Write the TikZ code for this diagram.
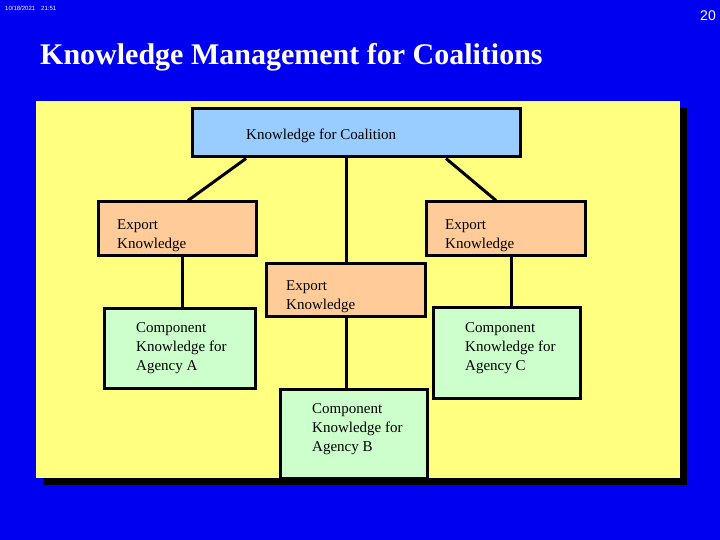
\documentclass[tikz,border=0pt]{standalone}
\usepackage{fontspec}
\setmainfont{Liberation Serif}
\newfontfamily\slidesans{Liberation Sans}
\definecolor{slideblue}{RGB}{0,0,240}
\definecolor{panelyellow}{RGB}{255,255,128}
\definecolor{coalblue}{RGB}{153,204,255}
\definecolor{exportorange}{RGB}{255,204,153}
\definecolor{compgreen}{RGB}{204,255,204}
\tikzset{
  kbox/.style={draw=black, line width=3pt, inner sep=0pt},
  ktext/.style={anchor=west, align=left, inner sep=0pt, font=\fontsize{15}{19}\selectfont},
  link/.style={line width=3pt}
}
\begin{document}
\begin{tikzpicture}[x=1pt,y=-1pt]
\useasboundingbox (0,0) rectangle (720,540);
\fill[slideblue] (0,0) rectangle (720,540);
\node[anchor=west, white, inner sep=0pt, font=\slidesans\fontsize{6}{7}\selectfont] (date) at (5,8) {10/18/2021\quad 21:51};
\node[anchor=east, white, inner sep=0pt, font=\slidesans\fontsize{14}{16}\selectfont] (page) at (716,16) {20};
\node[anchor=west, white, inner sep=0pt, font=\fontsize{30}{36}\selectfont\bfseries] (title) at (40,57) {Knowledge Management for Coalitions};
% panel with shadow
\fill[black] (43,108) rectangle (687,485);
\fill[panelyellow] (36,101) rectangle (680,478);
% boxes
\node[kbox, fill=coalblue, minimum width=328, minimum height=48] (coal) at (356,133) {};
\node[kbox, fill=exportorange, minimum width=158, minimum height=53] (expA) at (177,228.5) {};
\node[kbox, fill=exportorange, minimum width=159, minimum height=53] (expC) at (505.5,228.5) {};
\node[kbox, fill=exportorange, minimum width=159, minimum height=53] (expB) at (345.5,289.5) {};
\node[kbox, fill=compgreen, minimum width=151, minimum height=80] (compA) at (179.5,348) {};
\node[kbox, fill=compgreen, minimum width=147, minimum height=91] (compC) at (506.5,352.5) {};
\node[kbox, fill=compgreen, minimum width=147, minimum height=89] (compB) at (353.5,433.5) {};
% texts
\node[ktext] (coaltext) at (246,136) {Knowledge for Coalition};
\node[ktext] (expAtext) at (117,236) {Export\\Knowledge};
\node[ktext] (expCtext) at (445,236) {Export\\Knowledge};
\node[ktext] (expBtext) at (286,297) {Export\\Knowledge};
\node[ktext] (compAtext) at (136,348) {Component\\Knowledge for\\Agency A};
\node[ktext] (compCtext) at (465,348) {Component\\Knowledge for\\Agency C};
\node[ktext] (compBtext) at (312,429.5) {Component\\Knowledge for\\Agency B};
% links
\draw[link] ([xshift=-110pt]coal.south) -- ([xshift=11pt]expA.north);
\draw[link] ([xshift=90pt]coal.south) -- ([xshift=-9.5pt]expC.north);
\draw[link] ([xshift=-10pt]coal.south) -- ([xshift=-10pt]coal.south |- expB.north);
\draw[link] ([xshift=5pt]expA.south) -- ([xshift=5pt]expA.south |- compA.north);
\draw[link] ([xshift=5.5pt]expC.south) -- ([xshift=5.5pt]expC.south |- compC.north);
\draw[link] ([xshift=0.5pt]expB.south) -- ([xshift=0.5pt]expB.south |- compB.north);
\end{tikzpicture}
\end{document}
